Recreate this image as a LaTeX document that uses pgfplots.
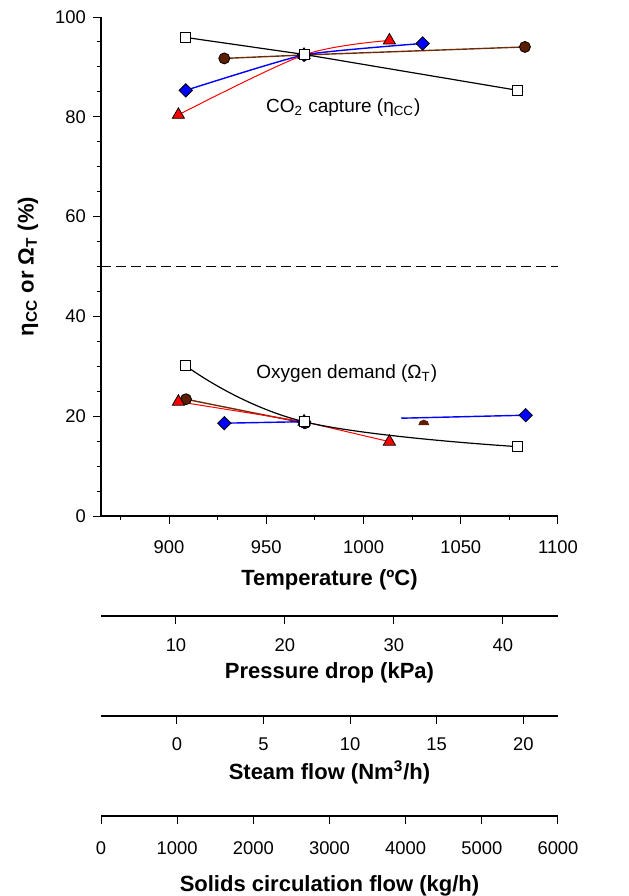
\documentclass[border=0pt]{standalone}
\usepackage{fontspec}
\setmainfont{Liberation Sans}
\usepackage{pgfplots}
\pgfplotsset{compat=1.18}
\definecolor{brownfill}{RGB}{92,30,0}
\definecolor{brownline}{RGB}{110,45,10}
\pgfdeclareplotmark{tophalf}{%
  \pgfpathmoveto{\pgfqpoint{-\pgfplotmarksize}{0pt}}%
  \pgfpatharc{180}{0}{\pgfplotmarksize}%
  \pgfpathclose
  \pgfusepathqfill}
\pgfplotsset{
  lowaxis/.style={
    scale only axis, width=228.5pt, height=1pt,
    anchor=south west,
    axis x line*=bottom, hide y axis,
    ymin=0, ymax=1,
    tick align=outside, major tick length=4pt,
    minor tick num=0,
    every tick/.style={black, line width=0.5pt},
    axis line style={line width=0.6pt},
    tick label style={font=\fontsize{9.2}{10}\selectfont},
    label style={font=\bfseries\fontsize{11}{13}\selectfont},
    /pgf/number format/assume math mode=true,
    /pgf/number format/1000 sep={},
    xlabel style={at={(axis description cs:0.5,0)}, anchor=base},
  },
}
\begin{document}
\begin{tikzpicture}
\begin{axis}[
  at={(0,0)}, anchor=south west,
  scale only axis, width=228.5pt, height=249.5pt,
  xmin=865, xmax=1100, ymin=0, ymax=100,
  xtick={900,950,...,1100}, minor xtick={875,925,...,1075},
  ytick={0,20,...,100}, minor ytick={5,10,...,95},
  axis x line*=bottom, axis y line*=left,
  tick align=outside, major tick length=4pt, minor tick length=2.2pt,
  every tick/.style={black, line width=0.5pt},
  axis line style={line width=0.6pt},
  tick label style={font=\fontsize{9.2}{10}\selectfont},
  label style={font=\bfseries\fontsize{11}{13}\selectfont},
  /pgf/number format/assume math mode=true,
  /pgf/number format/1000 sep={},
  xticklabel style={anchor=base, yshift=-14.5pt},
  xlabel={Temperature (ºC)},
  xlabel style={at={(axis description cs:0.5,0)}, anchor=base, yshift=-34.5pt},
  ylabel={η\textsubscript{CC} or Ω\textsubscript{T} (\%)},
  ylabel style={at={(axis description cs:-0.16,0.5)}, anchor=center, rotate=0},
  clip=false,
]
% reference line
\addplot[black, line width=0.5pt, dash pattern=on 5pt off 2.5pt] coordinates {(865,50) (1100,50)};

% CO2 capture
\addplot[brownline, line width=0.7pt, mark=*, mark size=2.75pt,
  mark options={fill=brownfill, draw=black, line width=0.4pt}]
  coordinates {(928.4,91.7) (969.9,92.4) (1083.0,94.0)};
\addplot[blue, line width=0.7pt, smooth, tension=0.3, mark=square*, mark size=2.35pt,
  mark options={fill=blue, draw=black, line width=0.4pt, rotate=45}]
  coordinates {(908.6,85.3) (969.4,92.4) (1030.4,94.7)};
\addplot[red, line width=0.5pt, smooth, mark=triangle*, mark size=3.5pt,
  mark options={fill=red, draw=black, line width=0.4pt}]
  coordinates {(904.8,80.4) (969.4,92.4) (1013.3,95.3)};
\addplot[black, line width=0.6pt, mark=square*, mark size=2.5pt,
  mark options={fill=white, draw=black, line width=0.5pt}]
  coordinates {(908.6,95.9) (969.4,92.5) (1079.3,85.3)};

% Oxygen demand
\addplot[brownline, line width=0.7pt, mark=*, mark size=2.75pt,
  mark options={fill=brownfill, draw=black, line width=0.4pt}]
  coordinates {(908.7,23.4) (969.9,18.6)};
\addplot[only marks, mark=tophalf, mark size=2.75pt, mark options={fill=brownfill}]
  coordinates {(1031.0,18.2)};
\addplot[blue, line width=0.7pt, mark=square*, mark size=2.35pt,
  mark options={fill=blue, draw=black, line width=0.4pt, rotate=45}]
  coordinates {(928.4,18.6) (969.4,18.9)};
\addplot[blue, line width=0.7pt, mark=none]
  coordinates {(1019.4,19.6) (1083.4,20.2)};
\addplot[only marks, mark=square*, mark size=2.35pt,
  mark options={fill=blue, draw=black, line width=0.4pt, rotate=45}]
  coordinates {(1083.4,20.2)};
\addplot[red, line width=0.5pt, mark=triangle*, mark size=3.5pt,
  mark options={fill=red, draw=black, line width=0.4pt}]
  coordinates {(904.8,22.9) (969.4,18.9) (1013.3,14.9)};
\addplot[black, line width=0.6pt, smooth, tension=0.7, mark=square*, mark size=2.5pt,
  mark options={fill=white, draw=black, line width=0.5pt}]
  coordinates {(908.6,30.1) (969.4,18.9) (1079.3,13.9)};

\node[font=\fontsize{9.5}{11}\selectfont] at (axis cs:989.6,81.9) {CO\textsubscript{2} capture (η\textsubscript{CC})};
\node[font=\fontsize{9.5}{11}\selectfont] at (axis cs:991.4,28.6) {Oxygen demand (Ω\textsubscript{T})};
\end{axis}

\begin{axis}[lowaxis, at={(0,-50pt)},
  xmin=3.12, xmax=45.05, xtick={10,20,30,40},
  xticklabel style={anchor=base, yshift=-13.5pt},
  xlabel={Pressure drop (kPa)}, xlabel style={yshift=-31pt}]
\addplot[draw=none] coordinates {(10,0)};
\end{axis}

\begin{axis}[lowaxis, at={(0,-100pt)},
  xmin=-4.38, xmax=22.0, xtick={0,5,10,15,20},
  xticklabel style={anchor=base, yshift=-13pt},
  xlabel={Steam flow (Nm\textsuperscript{3}/h)}, xlabel style={yshift=-31.5pt}]
\addplot[draw=none] coordinates {(0,0)};
\end{axis}

\begin{axis}[lowaxis, at={(0,-150pt)},
  xmin=0, xmax=6000, xtick={0,1000,...,6000},
  xticklabel style={anchor=base, yshift=-15pt},
  xlabel={Solids circulation flow (kg/h)}, xlabel style={yshift=-37.5pt}]
\addplot[draw=none] coordinates {(0,0)};
\end{axis}

\pgfresetboundingbox
\path (-50.5pt,-190pt) rectangle (263.5pt,258pt);
\end{tikzpicture}
\end{document}
